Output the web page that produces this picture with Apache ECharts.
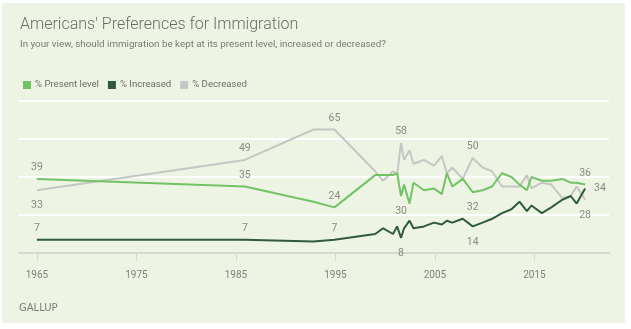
<!DOCTYPE html>
<html>
<head>
<meta charset="utf-8">
<script src="https://cdn.jsdelivr.net/npm/echarts@6/dist/echarts.min.js"></script>
<style>
  html, body { margin: 0; padding: 0; background: #ffffff; }
  #chart { position: absolute; left: 2px; top: 3px; width: 623px; height: 320px; background: #eef4e3; }
</style>
</head>
<body>
<div id="chart"></div>
<script>
// Survey dates (fractional years) and shares in percent
const surveyYears = [1965.0, 1985.9, 1992.8, 1994.9, 1999.0, 1999.8, 2000.8, 2001.2, 2001.6, 2001.9,
  2002.45, 2002.85, 2003.9, 2004.9, 2005.7, 2006.2, 2006.75, 2007.8, 2008.8, 2009.8,
  2010.75, 2011.75, 2012.7, 2013.5, 2014.25, 2014.7, 2015.75, 2016.7, 2017.8, 2018.65,
  2019.25, 2020.1];
const presentLevel = [39, 35, 27, 24, 41, 41, 41, 42, 30, 36, 26, 37, 33, 34, 31, 42, 35, 39, 32, 33,
  35, 42, 40, 36, 33, 40, 38, 38, 39, 37, 37, 36];
const increased = [7, 7, 6, 7, 10, 13, 10, 14, 8, 13, 17, 13, 14, 16, 15, 17, 16, 18, 14, 16,
  18, 21, 23, 27, 22, 25, 21, 24, 28, 30, 26, 34];
const decreased = [33, 49, 65, 65, 43, 38, 43, 41, 58, 49, 54, 47, 49, 46, 51, 42, 45, 39, 50, 45,
  43, 35, 35, 35, 41, 34, 37, 36, 29, 30, 35, 28];
const yearTicks = [1965, 1975, 1985, 1995, 2005, 2015];

// Which points carry a value label, and where it sits
const presentLabelPos = { 0: 'top', 1: 'top', 3: 'top', 8: 'bottom', 18: 'bottom', 31: 'top' };
const increasedLabelPos = { 0: 'top', 1: 'top', 3: 'top', 8: 'bottom', 18: 'bottom', 31: 'right' };
const decreasedLabelPos = { 0: 'bottom', 1: 'top', 3: 'top', 8: 'top', 18: 'top', 31: 'bottom' };

const labelColor = '#8a8a86';

function buildData(values, labelPos) {
  return values.map((v, i) => {
    const item = { value: [surveyYears[i], v] };
    const pos = labelPos[i];
    if (pos) {
      item.label = {
        show: true,
        position: pos,
        distance: pos === 'bottom' ? 10 : (pos === 'right' ? 9 : 6),
        formatter: (p) => String(Math.round(p.value[1])),
        color: labelColor,
        fontSize: 10.5,
        fontFamily: 'Roboto, Arial, sans-serif'
      };
    }
    return item;
  });
}

function lineSeries(name, values, color, labelPos, z) {
  return {
    name: name,
    type: 'line',
    data: buildData(values, labelPos),
    showSymbol: true,
    symbol: 'circle',
    symbolSize: 0,
    itemStyle: { color: color },
    lineStyle: { color: color, width: 2 },
    label: { show: false },
    emphasis: { disabled: true },
    z: z,
    animation: false
  };
}

const chart = echarts.init(document.getElementById('chart'), null, { renderer: 'canvas' });

chart.setOption({
  animation: false,
  backgroundColor: 'transparent',
  textStyle: { fontFamily: 'Roboto, Arial, sans-serif' },
  graphic: [
    {
      type: 'text', left: 18, top: 14,
      style: { text: "Americans' Preferences for Immigration", fill: '#6b6b68',
               font: '300 16px Roboto, Arial, sans-serif' }
    },
    {
      type: 'text', left: 18, top: 37,
      style: { text: 'In your view, should immigration be kept at its present level, increased or decreased?',
               fill: '#7a7a76', font: '9.8px Roboto, Arial, sans-serif' }
    },
    {
      type: 'text', left: 17, top: 300,
      style: { text: 'GALLUP', fill: '#7d7d79', font: '10px "DejaVu Sans", Arial, sans-serif' }
    }
  ],
  legend: {
    left: 16, top: 72,
    icon: 'rect', itemWidth: 8, itemHeight: 8, itemGap: 9,
    textStyle: { color: '#6e6e6a', fontSize: 9.6, padding: [0, 0, 0, -1] },
    data: ['% Present level', '% Increased', '% Decreased']
  },
  grid: { left: 17, right: 16, top: 98, bottom: 70, containLabel: false },
  xAxis: {
    type: 'value',
    min: 1963.2,
    max: 2022.5,
    z: 3,
    axisLine: { show: true, lineStyle: { color: '#d6d9d0', width: 2 } },
    axisTick: { show: true, customValues: yearTicks, length: 8, lineStyle: { color: '#d6d9d0', width: 1 } },
    axisLabel: {
      customValues: yearTicks, margin: 17, color: '#808080', fontSize: 10,
      formatter: (v) => String(v)
    },
    splitLine: { show: false }
  },
  yAxis: {
    type: 'value',
    min: 0, max: 80, interval: 20,
    axisLine: { show: false }, axisTick: { show: false }, axisLabel: { show: false },
    splitLine: { show: true, lineStyle: { color: '#ffffff', width: 2 } }
  },
  series: [
    lineSeries('% Decreased', decreased, '#c6c6c4', decreasedLabelPos, 2),
    lineSeries('% Present level', presentLevel, '#72c365', presentLabelPos, 3),
    lineSeries('% Increased', increased, '#2f5b3b', increasedLabelPos, 4)
  ]
});
</script>
</body>
</html>
